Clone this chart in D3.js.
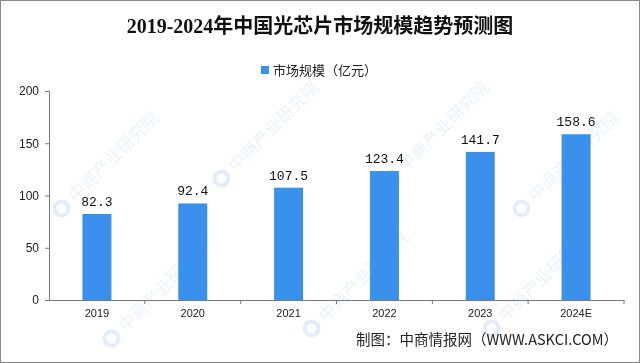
<!DOCTYPE html>
<html><head><meta charset="utf-8">
<script src="https://cdn.jsdelivr.net/npm/d3@7"></script>
<style>html,body{margin:0;padding:0;background:#fff;}svg{display:block;}</style>
</head><body>
<svg id="c" width="640" height="363"></svg>
<script>
const categories = ["2019","2020","2021","2022","2023","2024E"];
const values = [82.3, 92.4, 107.5, 123.4, 141.7, 158.6];
const yTicks = [0, 50, 100, 150, 200];
const title = "2019-2024年中国光芯片市场规模趋势预测图";
const seriesName = "市场规模（亿元）";
const source = "制图：中商情报网（WWW.ASKCI.COM）";
const watermark = "中商产业研究院";

const svg = d3.select("#c");
const W = 640, H = 363;
const m = {l: 49, r: 16, t: 91, b: 63};
const cjk = "'Noto Sans CJK SC', sans-serif";
const serif = "'Liberation Serif', 'Noto Sans CJK SC', serif";
const mono = "'Liberation Mono', 'DejaVu Sans Mono', monospace";

svg.append("rect").attr("x",0.5).attr("y",0.5).attr("width",W-1).attr("height",H-1)
  .attr("fill","#fff").attr("stroke","#8a8a8a");

// watermarks (kept inside the frame)
const wm = svg.append("g").attr("opacity",0.3);
const wmPos = [[70,200],[230,170],[400,170],[530,200],[120,330],[320,320],[500,320]];
wmPos.forEach(([x,y])=>{
  const g = wm.append("g").attr("transform",`translate(${x},${y}) rotate(-45)`);
  g.append("circle").attr("cx",-12).attr("cy",0).attr("r",7).attr("fill","none").attr("stroke","#9cc3e6").attr("stroke-width",4);
  g.append("text").attr("x",2).attr("y",6).attr("font-family",cjk).attr("font-size",17)
    .attr("fill","#b5d2ee").text(watermark);
});

const xb = d3.scaleBand().domain(categories).range([m.l, W - m.r]);
const y = d3.scaleLinear().domain([0,200]).range([H - m.b, m.t]);

// bars
svg.append("g").selectAll("rect").data(values).join("rect")
  .attr("x",(d,i)=>xb(categories[i]) + xb.bandwidth()/2 - 14.5)
  .attr("width",29)
  .attr("y",d=>y(d)).attr("height",d=>y(0)-y(d))
  .attr("fill","#3a91ec");

// value labels
svg.append("g").selectAll("text").data(values).join("text")
  .attr("x",(d,i)=>xb(categories[i]) + xb.bandwidth()/2)
  .attr("y",d=>y(d)-8)
  .attr("text-anchor","middle").attr("font-family",mono).attr("font-size",13).attr("fill","#111")
  .text(d=>d.toFixed(1));

// y axis
const ya = svg.append("g").attr("transform",`translate(${m.l},0)`)
  .call(d3.axisLeft(y).tickValues(yTicks).tickSize(4).tickPadding(6));
ya.select(".domain").attr("stroke","#777");
ya.selectAll(".tick line").attr("stroke","#777");
ya.selectAll("text").attr("font-family","'Liberation Sans', Arial, sans-serif").attr("font-size",12).attr("fill","#222");

// x axis
const xa = svg.append("g").attr("transform",`translate(0,${y(0)})`)
  .call(d3.axisBottom(xb).tickSize(0).tickPadding(9));
xa.select(".domain").attr("stroke","#777");
xa.selectAll("text").attr("font-family","'Liberation Sans', Arial, sans-serif").attr("font-size",11).attr("fill","#222");
svg.append("g").selectAll("line").data(categories).join("line")
  .attr("x1",d=>xb(d)+xb.bandwidth()).attr("x2",d=>xb(d)+xb.bandwidth())
  .attr("y1",y(0)).attr("y2",y(0)+4).attr("stroke","#777");

// title
svg.append("text").attr("x",320).attr("y",33).attr("text-anchor","middle")
  .attr("font-family",serif).attr("font-weight","bold").attr("font-size",20).attr("fill","#111")
  .text(title);

// legend
svg.append("rect").attr("x",261).attr("y",66).attr("width",8).attr("height",8).attr("fill","#3a91ec");
svg.append("text").attr("x",273).attr("y",75).attr("font-family",cjk).attr("font-size",13).attr("fill","#222")
  .text(seriesName);

// source
svg.append("text").attr("x",618).attr("y",345).attr("text-anchor","end")
  .attr("font-family",cjk).attr("font-size",14.5).attr("fill","#222").text(source);
</script>
</body></html>
